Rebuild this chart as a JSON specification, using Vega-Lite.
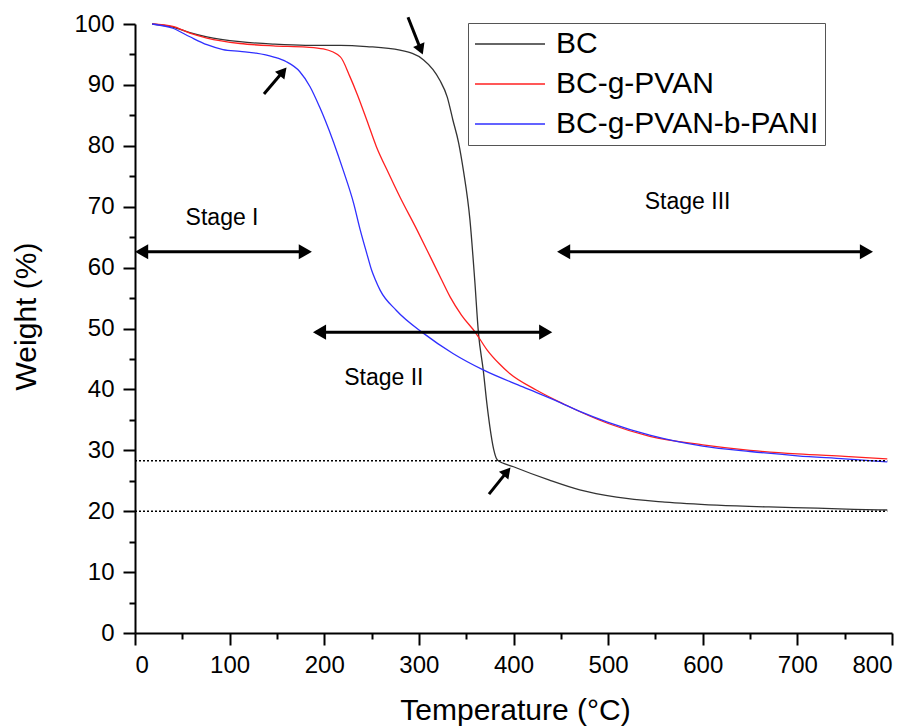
{
  "$schema": "https://vega.github.io/schema/vega-lite/v6.json",
  "width": 757,
  "height": 609,
  "autosize": {"type": "none"},
  "padding": {"left": 135, "top": 24, "right": 23, "bottom": 94},
  "background": "white",
  "config": {
    "view": {"stroke": null},
    "font": "Liberation Sans",
    "axis": {
      "grid": false,
      "domainColor": "black",
      "domainWidth": 2,
      "tickColor": "black",
      "tickWidth": 2,
      "labelColor": "black",
      "labelFont": "Liberation Sans",
      "labelFontSize": 24,
      "titleFont": "Liberation Sans",
      "titleFontSize": 30,
      "titleFontWeight": "normal",
      "titleColor": "black"
    }
  },
  "datasets": {
    "curves": [
      {"s": "BC", "T": 18, "W": 100}, {"s": "BC", "T": 40, "W": 99.5}, {"s": "BC", "T": 58, "W": 98.6}, {"s": "BC", "T": 76, "W": 97.9},
      {"s": "BC", "T": 111, "W": 97.1}, {"s": "BC", "T": 146, "W": 96.7}, {"s": "BC", "T": 180, "W": 96.5}, {"s": "BC", "T": 217, "W": 96.5},
      {"s": "BC", "T": 245, "W": 96.3}, {"s": "BC", "T": 280, "W": 95.7}, {"s": "BC", "T": 305, "W": 94.1}, {"s": "BC", "T": 322, "W": 90.8},
      {"s": "BC", "T": 330, "W": 88}, {"s": "BC", "T": 336, "W": 84.2}, {"s": "BC", "T": 342, "W": 80.5}, {"s": "BC", "T": 347, "W": 76},
      {"s": "BC", "T": 354, "W": 67.8}, {"s": "BC", "T": 359, "W": 58}, {"s": "BC", "T": 363, "W": 49.2}, {"s": "BC", "T": 368, "W": 43.2},
      {"s": "BC", "T": 372, "W": 37.5}, {"s": "BC", "T": 375, "W": 33.9}, {"s": "BC", "T": 379, "W": 30.2}, {"s": "BC", "T": 383, "W": 28.4},
      {"s": "BC", "T": 400, "W": 27.3}, {"s": "BC", "T": 438, "W": 25.1}, {"s": "BC", "T": 470, "W": 23.5}, {"s": "BC", "T": 509, "W": 22.3},
      {"s": "BC", "T": 560, "W": 21.5}, {"s": "BC", "T": 615, "W": 21.0}, {"s": "BC", "T": 670, "W": 20.7}, {"s": "BC", "T": 721, "W": 20.5},
      {"s": "BC", "T": 760, "W": 20.3}, {"s": "BC", "T": 795, "W": 20.2},
      {"s": "BC-g-PVAN", "T": 18, "W": 100}, {"s": "BC-g-PVAN", "T": 40, "W": 99.6}, {"s": "BC-g-PVAN", "T": 58, "W": 98.5}, {"s": "BC-g-PVAN", "T": 76, "W": 97.7},
      {"s": "BC-g-PVAN", "T": 111, "W": 96.8}, {"s": "BC-g-PVAN", "T": 146, "W": 96.4}, {"s": "BC-g-PVAN", "T": 181, "W": 96.2}, {"s": "BC-g-PVAN", "T": 199, "W": 95.9},
      {"s": "BC-g-PVAN", "T": 217, "W": 94.6}, {"s": "BC-g-PVAN", "T": 227, "W": 91.4}, {"s": "BC-g-PVAN", "T": 235, "W": 88.4}, {"s": "BC-g-PVAN", "T": 245, "W": 84.2},
      {"s": "BC-g-PVAN", "T": 255, "W": 79.9}, {"s": "BC-g-PVAN", "T": 268, "W": 75.5}, {"s": "BC-g-PVAN", "T": 280, "W": 71.6}, {"s": "BC-g-PVAN", "T": 298, "W": 66.2},
      {"s": "BC-g-PVAN", "T": 312, "W": 61.8}, {"s": "BC-g-PVAN", "T": 324, "W": 58}, {"s": "BC-g-PVAN", "T": 333, "W": 55.2},
      {"s": "BC-g-PVAN", "T": 345, "W": 52.2}, {"s": "BC-g-PVAN", "T": 360, "W": 49.3}, {"s": "BC-g-PVAN", "T": 372, "W": 46.5}, {"s": "BC-g-PVAN", "T": 385, "W": 44.2},
      {"s": "BC-g-PVAN", "T": 396, "W": 42.6}, {"s": "BC-g-PVAN", "T": 424, "W": 39.9},
      {"s": "BC-g-PVAN", "T": 453, "W": 37.6}, {"s": "BC-g-PVAN", "T": 500, "W": 34.4}, {"s": "BC-g-PVAN", "T": 544, "W": 32.3}, {"s": "BC-g-PVAN", "T": 600, "W": 30.9},
      {"s": "BC-g-PVAN", "T": 650, "W": 30.0}, {"s": "BC-g-PVAN", "T": 700, "W": 29.4}, {"s": "BC-g-PVAN", "T": 750, "W": 29.0}, {"s": "BC-g-PVAN", "T": 795, "W": 28.6},
      {"s": "BC-g-PVAN-b-PANI", "T": 18, "W": 100}, {"s": "BC-g-PVAN-b-PANI", "T": 40, "W": 99.3}, {"s": "BC-g-PVAN-b-PANI", "T": 58, "W": 97.9}, {"s": "BC-g-PVAN-b-PANI", "T": 76, "W": 96.6},
      {"s": "BC-g-PVAN-b-PANI", "T": 93, "W": 95.8}, {"s": "BC-g-PVAN-b-PANI", "T": 111, "W": 95.5}, {"s": "BC-g-PVAN-b-PANI", "T": 128, "W": 95.2}, {"s": "BC-g-PVAN-b-PANI", "T": 146, "W": 94.6},
      {"s": "BC-g-PVAN-b-PANI", "T": 160, "W": 93.8}, {"s": "BC-g-PVAN-b-PANI", "T": 174, "W": 92.2}, {"s": "BC-g-PVAN-b-PANI", "T": 185, "W": 89.7}, {"s": "BC-g-PVAN-b-PANI", "T": 195, "W": 86.4},
      {"s": "BC-g-PVAN-b-PANI", "T": 201, "W": 84.2}, {"s": "BC-g-PVAN-b-PANI", "T": 220, "W": 76.0}, {"s": "BC-g-PVAN-b-PANI", "T": 231, "W": 70.6}, {"s": "BC-g-PVAN-b-PANI", "T": 238, "W": 66.2},
      {"s": "BC-g-PVAN-b-PANI", "T": 245, "W": 62.3}, {"s": "BC-g-PVAN-b-PANI", "T": 250, "W": 59.6}, {"s": "BC-g-PVAN-b-PANI", "T": 254, "W": 58}, {"s": "BC-g-PVAN-b-PANI", "T": 259, "W": 56.3},
      {"s": "BC-g-PVAN-b-PANI", "T": 276, "W": 53}, {"s": "BC-g-PVAN-b-PANI", "T": 305, "W": 49.2}, {"s": "BC-g-PVAN-b-PANI", "T": 336, "W": 45.9}, {"s": "BC-g-PVAN-b-PANI", "T": 368, "W": 43.2},
      {"s": "BC-g-PVAN-b-PANI", "T": 410, "W": 40.4}, {"s": "BC-g-PVAN-b-PANI", "T": 447, "W": 38.0}, {"s": "BC-g-PVAN-b-PANI", "T": 470, "W": 36.4}, {"s": "BC-g-PVAN-b-PANI", "T": 500, "W": 34.6},
      {"s": "BC-g-PVAN-b-PANI", "T": 544, "W": 32.5}, {"s": "BC-g-PVAN-b-PANI", "T": 600, "W": 30.7}, {"s": "BC-g-PVAN-b-PANI", "T": 650, "W": 29.8}, {"s": "BC-g-PVAN-b-PANI", "T": 700, "W": 29.1},
      {"s": "BC-g-PVAN-b-PANI", "T": 750, "W": 28.6}, {"s": "BC-g-PVAN-b-PANI", "T": 795, "W": 28.1}
    ],
    "refs": [
      {"T": 0, "T2": 795, "W": 28.3},
      {"T": 0, "T2": 795, "W": 20}
    ],
    "shafts": [
      {"T": 4, "T2": 183, "W": 62.6},
      {"T": 191, "T2": 437, "W": 49.4},
      {"T": 450, "T2": 776, "W": 62.6}
    ],
    "headsL": [
      {"T": 7, "W": 62.6},
      {"T": 195, "W": 49.4},
      {"T": 453, "W": 62.6}
    ],
    "headsR": [
      {"T": 180, "W": 62.6},
      {"T": 434, "W": 49.4},
      {"T": 773, "W": 62.6}
    ],
    "pointers": [
      {"T": 288.5, "W": 101.1, "T2": 302, "W2": 95.8},
      {"T": 136.3, "W": 88.5, "T2": 156.5, "W2": 92.2},
      {"T": 374.1, "W": 22.8, "T2": 393.2, "W2": 26.5}
    ],
    "pointerHeadsDown": [
      {"T": 302, "W": 95.8}
    ],
    "pointerHeadsUp": [
      {"T": 156.5, "W": 92.2},
      {"T": 393.2, "W": 26.5}
    ],
    "labels": [
      {"T": 92, "W": 68.1, "label": "Stage I"},
      {"T": 263, "W": 41.8, "label": "Stage II"},
      {"T": 584, "W": 70.8, "label": "Stage III"}
    ],
    "minor": [
      {"T": 50, "W": 5}
    ]
  },
  "resolve": {"axis": {"x": "independent", "y": "independent"}},
  "layer": [
    {
      "data": {"name": "curves"},
      "mark": {"type": "line", "strokeWidth": 1.3, "interpolate": "monotone"},
      "encoding": {
        "x": {
          "field": "T", "type": "quantitative",
          "scale": {"domain": [0, 800], "nice": false, "zero": false},
          "axis": {
            "orient": "bottom",
            "values": [0, 100, 200, 300, 400, 500, 600, 700, 800],
            "tickSize": 12,
            "labelPadding": 8,
            "title": "Temperature (°C)",
            "titleX": 380,
            "titleY": 86,
            "titleBaseline": "alphabetic",
            "titleAlign": "center"
          }
        },
        "y": {
          "field": "W", "type": "quantitative",
          "scale": {"domain": [0, 100], "nice": false},
          "axis": {
            "orient": "left",
            "values": [0, 10, 20, 30, 40, 50, 60, 70, 80, 90, 100],
            "tickSize": 12,
            "labelPadding": 9,
            "title": "Weight (%)",
            "titleAngle": 270,
            "titleX": -100,
            "titleY": 292,
            "titleBaseline": "alphabetic",
            "titleAlign": "center"
          }
        },
        "color": {
          "field": "s", "type": "nominal",
          "scale": {"domain": ["BC", "BC-g-PVAN", "BC-g-PVAN-b-PANI"], "range": ["#333333", "#ff2020", "#2f2fff"]},
          "legend": {
            "title": null,
            "orient": "none",
            "legendX": 333,
            "legendY": -1,
            "symbolType": "stroke",
            "symbolSize": 4900,
            "symbolStrokeWidth": 1.5,
            "clipHeight": 30,
            "labelFontSize": 30,
            "labelFont": "Liberation Sans",
            "labelColor": "black",
            "labelLimit": 500,
            "labelOffset": 10,
            "strokeColor": "#555555",
            "padding": 6,
            "rowPadding": 10,
            "fillColor": "white"
          }
        }
      }
    },
    {
      "data": {"name": "minor"},
      "mark": {"type": "point", "opacity": 0},
      "encoding": {
        "x": {
          "field": "T", "type": "quantitative",
          "axis": {"orient": "bottom", "values": [50, 150, 250, 350, 450, 550, 650, 750], "labels": false, "domain": false, "tickSize": 6, "title": null}
        },
        "y": {
          "field": "W", "type": "quantitative",
          "axis": {"orient": "left", "values": [5, 15, 25, 35, 45, 55, 65, 75, 85, 95], "labels": false, "domain": false, "tickSize": 6, "title": null}
        }
      }
    },
    {
      "data": {"name": "refs"},
      "mark": {"type": "rule", "color": "black", "strokeWidth": 1.5, "strokeDash": [2, 2]},
      "encoding": {
        "x": {"field": "T", "type": "quantitative", "axis": null},
        "x2": {"field": "T2"},
        "y": {"field": "W", "type": "quantitative", "axis": null}
      }
    },
    {
      "data": {"name": "shafts"},
      "mark": {"type": "rule", "color": "black", "strokeWidth": 3},
      "encoding": {
        "x": {"field": "T", "type": "quantitative", "axis": null},
        "x2": {"field": "T2"},
        "y": {"field": "W", "type": "quantitative", "axis": null}
      }
    },
    {
      "data": {"name": "headsL"},
      "mark": {"type": "point", "shape": "triangle-left", "filled": true, "color": "black", "opacity": 1, "size": 230},
      "encoding": {
        "x": {"field": "T", "type": "quantitative", "axis": null},
        "y": {"field": "W", "type": "quantitative", "axis": null}
      }
    },
    {
      "data": {"name": "headsR"},
      "mark": {"type": "point", "shape": "triangle-right", "filled": true, "color": "black", "opacity": 1, "size": 230},
      "encoding": {
        "x": {"field": "T", "type": "quantitative", "axis": null},
        "y": {"field": "W", "type": "quantitative", "axis": null}
      }
    },
    {
      "data": {"name": "pointers"},
      "mark": {"type": "rule", "color": "black", "strokeWidth": 3},
      "encoding": {
        "x": {"field": "T", "type": "quantitative", "axis": null},
        "y": {"field": "W", "type": "quantitative", "axis": null},
        "x2": {"field": "T2"},
        "y2": {"field": "W2"}
      }
    },
    {
      "data": {"name": "pointerHeadsDown"},
      "mark": {"type": "point", "shape": "triangle-up", "filled": true, "color": "black", "opacity": 1, "size": 150, "angle": 158},
      "encoding": {
        "x": {"field": "T", "type": "quantitative", "axis": null},
        "y": {"field": "W", "type": "quantitative", "axis": null}
      }
    },
    {
      "data": {"name": "pointerHeadsUp"},
      "mark": {"type": "point", "shape": "triangle-up", "filled": true, "color": "black", "opacity": 1, "size": 150, "angle": 40},
      "encoding": {
        "x": {"field": "T", "type": "quantitative", "axis": null},
        "y": {"field": "W", "type": "quantitative", "axis": null}
      }
    },
    {
      "data": {"name": "labels"},
      "mark": {"type": "text", "font": "Liberation Sans", "fontSize": 23, "color": "black", "align": "center", "baseline": "middle"},
      "encoding": {
        "x": {"field": "T", "type": "quantitative", "axis": null},
        "y": {"field": "W", "type": "quantitative", "axis": null},
        "text": {"field": "label"}
      }
    }
  ]
}
